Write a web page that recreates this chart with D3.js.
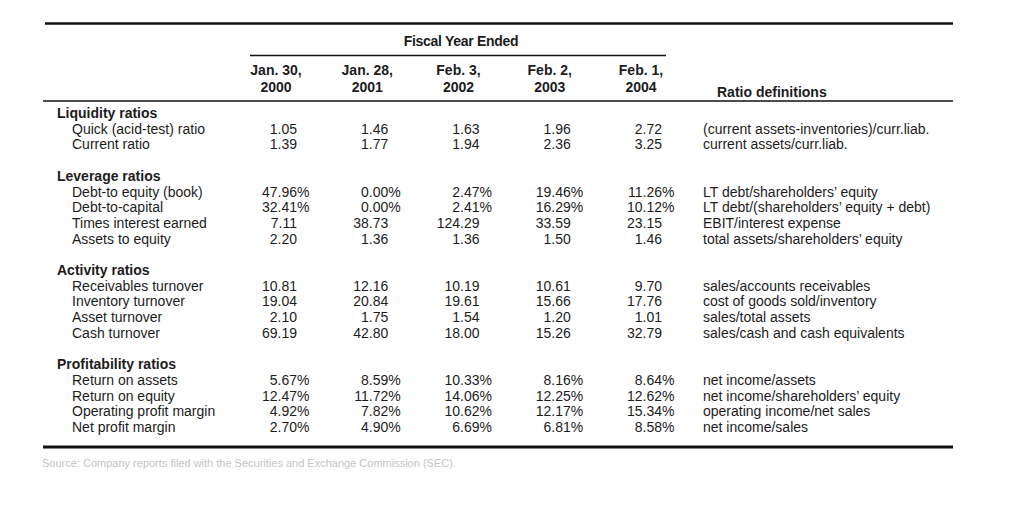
<!DOCTYPE html>
<html><head><meta charset="utf-8">
<script src="https://cdn.jsdelivr.net/npm/d3@7/dist/d3.min.js"></script>
<style>
html,body{margin:0;padding:0;background:#fff;}
svg text{font-family:"Liberation Sans",Arial,Helvetica,sans-serif;fill:#1c1c1c;}
</style></head>
<body><svg id="c" width="1024" height="519"></svg>
<script>
// ---- data ----
const dates = [["Jan. 30,","2000"],["Jan. 28,","2001"],["Feb. 3,","2002"],["Feb. 2,","2003"],["Feb. 1,","2004"]];
const sections = ["Liquidity ratios","Leverage ratios","Activity ratios","Profitability ratios"];
const sectionSlots = [0,4,10,16];
const rowLabels = ["Quick (acid-test) ratio","Current ratio",
  "Debt-to equity (book)","Debt-to-capital","Times interest earned","Assets to equity",
  "Receivables turnover","Inventory turnover","Asset turnover","Cash turnover",
  "Return on assets","Return on equity","Operating profit margin","Net profit margin"];
const rowSlots = [1,2, 5,6,7,8, 11,12,13,14, 17,18,19,20];
const v2000 = ["1.05","1.39","47.96%","32.41%","7.11","2.20","10.81","19.04","2.10","69.19","5.67%","12.47%","4.92%","2.70%"];
const v2001 = ["1.46","1.77","0.00%","0.00%","38.73","1.36","12.16","20.84","1.75","42.80","8.59%","11.72%","7.82%","4.90%"];
const v2002 = ["1.63","1.94","2.47%","2.41%","124.29","1.36","10.19","19.61","1.54","18.00","10.33%","14.06%","10.62%","6.69%"];
const v2003 = ["1.96","2.36","19.46%","16.29%","33.59","1.50","10.61","15.66","1.20","15.26","8.16%","12.25%","12.17%","6.81%"];
const v2004 = ["2.72","3.25","11.26%","10.12%","23.15","1.46","9.70","17.76","1.01","32.79","8.64%","12.62%","15.34%","8.58%"];
const definitions = ["(current assets-inventories)/curr.liab.","current assets/curr.liab.",
  "LT debt/shareholders\u2019 equity","LT debt/(shareholders\u2019 equity + debt)","EBIT/interest expense","total assets/shareholders\u2019 equity",
  "sales/accounts receivables","cost of goods sold/inventory","sales/total assets","sales/cash and cash equivalents",
  "net income/assets","net income/shareholders\u2019 equity","operating income/net sales","net income/sales"];
const headerTitle = "Fiscal Year Ended";
const defTitle = "Ratio definitions";
const sourceNote = "Source: Company reports filed with the Securities and Exchange Commission (SEC).";

// ---- drawing ----
const svg = d3.select("#c");
const fs = 14;
const series = [v2000,v2001,v2002,v2003,v2004];
const colKeys = dates.map(d=>d.join(" "));
const x = d3.scalePoint().domain(colKeys).range([297,662]);
const y = d3.scaleLinear().domain([0,20]).range([118,432]);

const rule = (x1,x2,yy,w)=>svg.append("line").attr("x1",x1).attr("x2",x2).attr("y1",yy).attr("y2",yy)
  .attr("stroke","#111").attr("stroke-width",w);
rule(45,953,23.5,2.5);
rule(250,666,55.5,1.3);
rule(43,953,101,1.4);
rule(43,953,447,3);

svg.append("text").attr("x",461).attr("y",46).attr("text-anchor","middle")
  .attr("font-size",fs).attr("font-weight","bold").attr("letter-spacing",-0.3).text(headerTitle);

dates.forEach((d,i)=>{
  const cx = x(colKeys[i]) - 21;
  svg.append("text").attr("x",cx).attr("y",75).attr("text-anchor","middle").attr("font-size",fs).attr("font-weight","bold").text(d[0]);
  svg.append("text").attr("x",cx).attr("y",92).attr("text-anchor","middle").attr("font-size",fs).attr("font-weight","bold").text(d[1]);
});
svg.append("text").attr("x",717).attr("y",97).attr("font-size",fs).attr("font-weight","bold").text(defTitle);

sections.forEach((s,i)=>{
  svg.append("text").attr("x",57).attr("y",y(sectionSlots[i])).attr("font-size",fs).attr("font-weight","bold").text(s);
});
rowLabels.forEach((r,i)=>{
  svg.append("text").attr("x",72).attr("y",y(rowSlots[i])).attr("font-size",fs).text(r);
  svg.append("text").attr("x",703).attr("y",y(rowSlots[i])).attr("font-size",fs).text(definitions[i]);
});
series.forEach((vals,c)=>{
  const xr = x(colKeys[c]);
  vals.forEach((v,i)=>{
    const pct = v.endsWith("%");
    const num = pct ? v.slice(0,-1) : v;
    svg.append("text").attr("x",xr).attr("y",y(rowSlots[i])).attr("text-anchor","end").attr("font-size",fs).text(num);
    if(pct) svg.append("text").attr("x",xr).attr("y",y(rowSlots[i])).attr("font-size",fs).text("%");
  });
});
svg.append("text").attr("x",42).attr("y",467).attr("font-size",11).style("fill","#c4c4c4").text(sourceNote);
</script></body></html>
